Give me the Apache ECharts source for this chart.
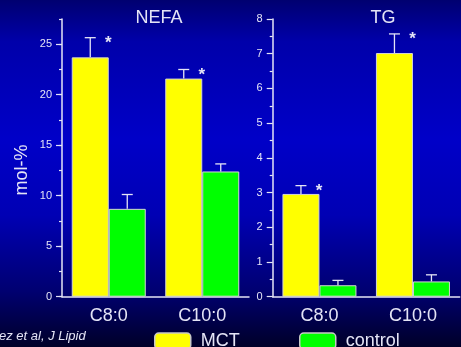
<!DOCTYPE html>
<html>
<head>
<meta charset="utf-8">
<script src="https://cdn.jsdelivr.net/npm/echarts@6/dist/echarts.min.js"></script>
<style>
  html, body { margin: 0; padding: 0; background: #000060; }
  #chart { width: 461px; height: 347px; }
</style>
</head>
<body>
<div id="chart"></div>
<script>
// Fatty acid composition: MCT diet vs control, NEFA and TG fractions (mol-%)
const categories = ['C8:0', 'C10:0'];

const nefaMCT      = [23.7, 21.6];
const nefaMCTErr   = [1.95, 0.9];
const nefaCtrl     = [8.7, 12.4];
const nefaCtrlErr  = [1.42, 0.75];

const tgMCT        = [2.96, 7.02];
const tgMCTErr     = [0.24, 0.55];
const tgCtrl       = [0.33, 0.44];
const tgCtrlErr    = [0.14, 0.19];

// categories flagged as significantly different (asterisk over MCT bar)
const nefaSignificant = [true, true];
const tgSignificant   = [true, true];

const nefaMajorTicks = [0, 5, 10, 15, 20, 25];

const FONT = 'Liberation Sans, Arial, sans-serif';
const INK = '#e4e4f6';
const BAR_W = 37;

const chart = echarts.init(document.getElementById('chart'), null, { renderer: 'canvas' });

function errorSeries(name, gridIdx, values, errs, side) {
  return {
    name: name,
    type: 'custom',
    xAxisIndex: gridIdx,
    yAxisIndex: gridIdx === 0 ? 0 : 2,
    z: 5,
    data: values.map((v, i) => [i, v, errs[i]]),
    renderItem: function (params, api) {
      const base = api.coord([api.value(0), api.value(1)]);
      const top = api.coord([api.value(0), api.value(1) + api.value(2)]);
      const x = base[0] + side * BAR_W / 2;
      const cap = 5.5;
      const style = { stroke: INK, lineWidth: 1.3 };
      return {
        type: 'group',
        children: [
          { type: 'line', shape: { x1: x, y1: base[1], x2: x, y2: top[1] }, style: style },
          { type: 'line', shape: { x1: x - cap, y1: top[1], x2: x + cap, y2: top[1] }, style: style }
        ]
      };
    }
  };
}

function starSeries(name, gridIdx, values, errs, flags) {
  return {
    name: name,
    type: 'custom',
    xAxisIndex: gridIdx,
    yAxisIndex: gridIdx === 0 ? 0 : 2,
    z: 6,
    data: values.map((v, i) => [i, v + errs[i], flags[i] ? 1 : 0]),
    renderItem: function (params, api) {
      if (!api.value(2)) return null;
      const p = api.coord([api.value(0), api.value(1)]);
      return {
        type: 'text',
        style: {
          x: p[0] - 0.5, y: p[1] - 3,
          text: '*',
          fill: INK,
          font: 'bold 17px ' + FONT,
          textAlign: 'center',
          textVerticalAlign: 'top'
        }
      };
    }
  };
}

const barStyle = (color) => ({ color: color, borderColor: '#d4d4d4', borderWidth: 1 });

const axisLineStyle = { color: INK, width: 1.5 };

const option = {
  animation: false,
  backgroundColor: {
    type: 'linear', x: 0, y: 0, x2: 0, y2: 1,
    colorStops: [
      { offset: 0.00, color: '#000070' },
      { offset: 0.12, color: '#0000aa' },
      { offset: 0.40, color: '#0000c8' },
      { offset: 0.62, color: '#0000b4' },
      { offset: 0.84, color: '#000070' },
      { offset: 1.00, color: '#000028' }
    ]
  },
  textStyle: { fontFamily: FONT },
  title: [
    { text: 'NEFA', left: 159, top: 9, textAlign: 'center', padding: 0,
      textStyle: { color: INK, fontSize: 18, fontWeight: 'normal', fontFamily: FONT } },
    { text: 'TG', left: 383, top: 9, textAlign: 'center', padding: 0,
      textStyle: { color: INK, fontSize: 18, fontWeight: 'normal', fontFamily: FONT } }
  ],
  legend: [
    { data: ['MCT'], left: 154, top: 332, padding: 0, itemWidth: 36, itemHeight: 16,
      textStyle: { color: INK, fontSize: 18, fontFamily: FONT, padding: [0, 0, 0, 5] },
      itemStyle: { borderColor: '#c8c8c8', borderWidth: 1.5 } },
    { data: ['control'], left: 299, top: 332, padding: 0, itemWidth: 36, itemHeight: 16,
      textStyle: { color: INK, fontSize: 18, fontFamily: FONT, padding: [0, 0, 0, 5] },
      itemStyle: { borderColor: '#c8c8c8', borderWidth: 1.5 } }
  ],
  grid: [
    { left: 62, top: 19, width: 187, height: 277.7 },
    { left: 272.7, top: 19, width: 187, height: 277.7 }
  ],
  xAxis: [0, 1].map(g => ({
    type: 'category',
    gridIndex: g,
    data: categories,
    axisLine: { show: true, lineStyle: axisLineStyle },
    axisTick: { show: false },
    axisLabel: { color: INK, fontSize: 18, margin: 10, fontFamily: FONT }
  })),
  yAxis: [
    {
      type: 'value', gridIndex: 0, position: 'left', min: 0, max: 27.5, interval: 2.5,
      axisLine: { show: true, lineStyle: axisLineStyle },
      axisTick: { show: true, length: 3, lineStyle: { color: INK, width: 1.2 } },
      splitLine: { show: false },
      axisLabel: { color: INK, fontSize: 11, margin: 10,
        formatter: v => (Math.abs(v % 5) < 1e-9 ? String(v) : '') }
    },
    {
      type: 'value', gridIndex: 0, position: 'left', offset: 0, min: 0, max: 27.5, interval: 5,
      axisLine: { show: false },
      axisTick: { show: true, length: 6, customValues: nefaMajorTicks,
        lineStyle: { color: INK, width: 1.2 } },
      axisLabel: { show: false },
      splitLine: { show: false }
    },
    {
      type: 'value', gridIndex: 1, position: 'left', min: 0, max: 8, interval: 1,
      axisLine: { show: true, lineStyle: axisLineStyle },
      axisTick: { show: true, length: 6, lineStyle: { color: INK, width: 1.2 } },
      minorTick: { show: true, splitNumber: 2, length: 3, lineStyle: { color: INK, width: 1.2 } },
      splitLine: { show: false },
      minorSplitLine: { show: false },
      axisLabel: { color: INK, fontSize: 11, margin: 10 }
    }
  ],
  series: [
    { name: 'MCT', type: 'bar', xAxisIndex: 0, yAxisIndex: 0, data: nefaMCT,
      barWidth: BAR_W, barGap: '0%', itemStyle: barStyle('#ffff00') },
    { name: 'control', type: 'bar', xAxisIndex: 0, yAxisIndex: 0, data: nefaCtrl,
      barWidth: BAR_W, barGap: '0%', itemStyle: barStyle('#00ff00') },
    { name: 'MCT', type: 'bar', xAxisIndex: 1, yAxisIndex: 2, data: tgMCT,
      barWidth: BAR_W, barGap: '0%', itemStyle: barStyle('#ffff00') },
    { name: 'control', type: 'bar', xAxisIndex: 1, yAxisIndex: 2, data: tgCtrl,
      barWidth: BAR_W, barGap: '0%', itemStyle: barStyle('#00ff00') },
    errorSeries('NEFA MCT SEM', 0, nefaMCT, nefaMCTErr, -1),
    errorSeries('NEFA control SEM', 0, nefaCtrl, nefaCtrlErr, 1),
    errorSeries('TG MCT SEM', 1, tgMCT, tgMCTErr, -1),
    errorSeries('TG control SEM', 1, tgCtrl, tgCtrlErr, 1),
    starSeries('NEFA significance', 0, nefaMCT, nefaMCTErr, nefaSignificant),
    starSeries('TG significance', 1, tgMCT, tgMCTErr, tgSignificant)
  ],
  graphic: [
    // y-axis title of the NEFA panel
    { type: 'text', x: 22, y: 170, rotation: Math.PI / 2,
      style: { text: 'mol-%', fill: INK, font: '18px ' + FONT,
        textAlign: 'center', textVerticalAlign: 'middle' } },
    // source line
    { type: 'text', x: -1, y: 336,
      style: { text: 'ez et al, J Lipid', fill: INK, font: 'italic 13px ' + FONT,
        textAlign: 'left', textVerticalAlign: 'middle' } }
  ]
};

chart.setOption(option);
</script>
</body>
</html>
